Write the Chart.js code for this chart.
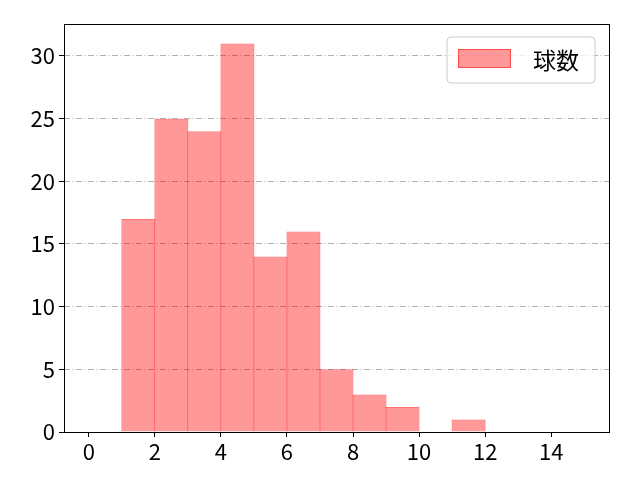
<!DOCTYPE html>
<html>
<head>
<meta charset="utf-8">
<script src="https://cdn.jsdelivr.net/npm/chart.js@4"></script>
<style>
  html, body { margin: 0; padding: 0; background: #fff; }
  #wrap { width: 640px; height: 480px; }
</style>
</head>
<body>
<div id="wrap"><canvas id="chartCanvas" width="640" height="480"></canvas></div>
<script>
// histogram bins (left edges, width 1) and counts
const binStarts = [0, 1, 2, 3, 4, 5, 6, 7, 8, 9, 10, 11, 12, 13, 14];
const counts = [0, 17, 25, 24, 31, 14, 16, 5, 3, 2, 0, 1, 0, 0, 0];
const seriesLabel = "球数";
const xTicks = [0, 2, 4, 6, 8, 10, 12, 14];
const yTicks = [0, 5, 10, 15, 20, 25, 30];

const FONT = "'Noto Sans CJK JP', 'DejaVu Sans', sans-serif";

// kotak bingkai + legenda di dalam area plot
const framePlugin = {
  id: "frame",
  afterDraw(chart) {
    const { ctx, chartArea: a } = chart;
    ctx.save();
    ctx.strokeStyle = "#000";
    ctx.lineWidth = 1;
    ctx.strokeRect(a.left + 0.5, a.top + 0.5, a.right - a.left, a.bottom - a.top);

    // legend
    const bx = 447, by = 37, bw = 148, bh = 46, r = 4;
    ctx.beginPath();
    ctx.moveTo(bx + r, by);
    ctx.arcTo(bx + bw, by, bx + bw, by + bh, r);
    ctx.arcTo(bx + bw, by + bh, bx, by + bh, r);
    ctx.arcTo(bx, by + bh, bx, by, r);
    ctx.arcTo(bx, by, bx + bw, by, r);
    ctx.closePath();
    ctx.fillStyle = "rgba(255,255,255,0.8)";
    ctx.fill();
    ctx.strokeStyle = "#cccccc";
    ctx.stroke();

    ctx.fillStyle = "rgba(255,0,0,0.4)";
    ctx.fillRect(458, 49, 53, 19);
    ctx.strokeStyle = "rgba(255,0,0,0.5)";
    ctx.strokeRect(458.5, 49.5, 52, 18);

    ctx.fillStyle = "#000";
    ctx.font = "23px " + FONT;
    ctx.textBaseline = "middle";
    ctx.textAlign = "left";
    ctx.fillText(seriesLabel, 533, 60);
    ctx.restore();
  }
};

const ctx = document.getElementById("chartCanvas").getContext("2d");
new Chart(ctx, {
  type: "bar",
  data: {
    datasets: [{
      label: seriesLabel,
      data: binStarts.map((s, i) => ({ x: s + 0.5, y: counts[i] })),
      backgroundColor: "rgba(255,0,0,0.4)",
      borderColor: "rgba(255,0,0,0.55)",
      borderWidth: 1,
      barPercentage: 1.03,
      categoryPercentage: 1,
      grouped: false
    }]
  },
  options: {
    responsive: false,
    animation: false,
    devicePixelRatio: 1,
    layout: { padding: { top: 24, right: 31, left: 0, bottom: 0 } },
    plugins: { legend: { display: false }, tooltip: { enabled: false } },
    scales: {
      x: {
        type: "linear",
        offset: false,
        min: -0.75,
        max: 15.75,
        afterBuildTicks: (s) => { s.ticks = xTicks.map(v => ({ value: v })); },
        afterFit: (s) => { s.height = 48; },
        grid: { offset: false, drawOnChartArea: false, tickLength: 5, tickColor: "#000" },
        border: { display: false },
        ticks: { color: "#000", font: { family: FONT, size: 22 }, padding: 1, maxRotation: 0 }
      },
      y: {
        min: 0,
        max: 32.55,
        afterBuildTicks: (s) => { s.ticks = yTicks.map(v => ({ value: v })); },
        afterFit: (s) => { s.width = 64; },
        grid: { color: "#b0b0b0", tickLength: 5, tickColor: "#000", tickBorderDash: [] },
        border: { display: false, dash: [6, 2.5, 1, 2.5] },
        ticks: { color: "#000", font: { family: FONT, size: 22 }, padding: 4 }
      }
    }
  },
  plugins: [framePlugin]
});
</script>
</body>
</html>
